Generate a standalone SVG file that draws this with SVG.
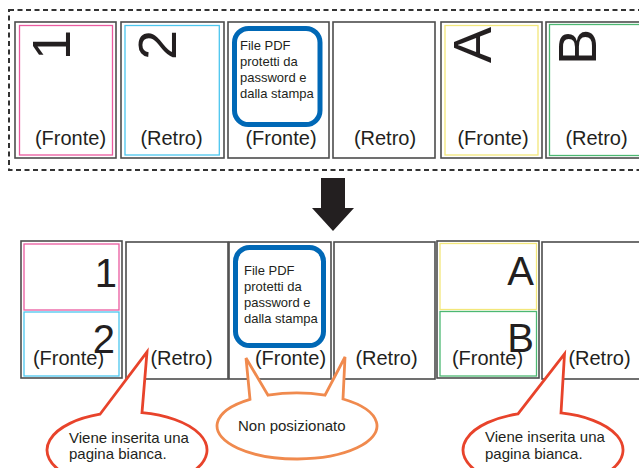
<svg xmlns="http://www.w3.org/2000/svg" width="639" height="468" viewBox="0 0 639 468">
<style>
.frame{fill:#fff;stroke:#4d4d4d;stroke-width:1.6}
.in{fill:none;stroke-width:1.3}
.pink{stroke:#ea5a9f}
.cyan{stroke:#4cc6ef}
.yel{stroke:#f3e77a}
.grn{stroke:#4cb872}
.t{font-family:"Liberation Sans",Arial,sans-serif;fill:#231f20}
.lbl{font-size:20px;text-anchor:middle}
.big{font-size:54px}
.mid{font-size:40px;text-anchor:end}
.blue{fill:#fff;stroke:#0068b6;stroke-width:5}
.btxt{font-size:13px}
.ctxt{font-size:15px}
.red{fill:#fff;stroke:#e8432b;stroke-width:2.8;stroke-linejoin:miter}
.org{fill:#fff;stroke:#f08a4e;stroke-width:2.8;stroke-linejoin:miter}
</style>
<rect x="0" y="0" width="639" height="468" fill="#fff"/>
<g id="source-set">
<rect x="9" y="10" width="640" height="160" fill="none" stroke="#333" stroke-width="2" stroke-dasharray="5 3.5"/>
<g id="top-page-1"><rect class="frame" x="15" y="22" width="101" height="136"/><rect class="in pink" x="19.5" y="25.5" width="93" height="129.5"/><text class="t big" transform="translate(70,60) rotate(-90)">1</text><text class="t lbl" x="70.5" y="145">(Fronte)</text></g>
<g id="top-page-2"><rect class="frame" x="121" y="22" width="103" height="136"/><rect class="in cyan" x="125" y="25.5" width="94.3" height="129.5"/><text class="t big" transform="translate(176,60) rotate(-90)">2</text><text class="t lbl" x="171.5" y="145">(Retro)</text></g>
<g id="top-page-3"><rect class="frame" x="228" y="22" width="101" height="136"/><rect class="blue" x="234.5" y="28.5" width="85.5" height="96" rx="14"/><text class="t btxt" x="240" y="50">File PDF</text><text class="t btxt" x="240" y="66">protetti da</text><text class="t btxt" x="240" y="82">password e</text><text class="t btxt" x="240" y="98">dalla stampa</text><text class="t lbl" x="281" y="145">(Fronte)</text></g>
<g id="top-page-4"><rect class="frame" x="333" y="22" width="102" height="136"/><text class="t lbl" x="385" y="145">(Retro)</text></g>
<g id="top-page-5"><rect class="frame" x="441" y="22" width="101" height="136"/><rect class="in yel" x="445" y="25.5" width="93" height="129.5"/><text class="t big" transform="translate(491,63) rotate(-90)">A</text><text class="t lbl" x="493" y="145">(Fronte)</text></g>
<g id="top-page-6"><rect class="frame" x="546" y="22" width="102" height="136"/><rect class="in grn" x="549.5" y="24.5" width="95" height="131"/><text class="t big" transform="translate(596,65) rotate(-90)">B</text><text class="t lbl" x="596.5" y="145">(Retro)</text></g>
</g>
<g id="connectors">
<polygon points="321,178 345,178 345,208 354,208 333,231 312,208 321,208" fill="#231f20"/>
</g>
<g id="result-set">
<g id="bottom-page-1"><rect class="frame" x="21" y="241" width="101" height="137"/><rect class="in pink" x="24" y="244" width="95" height="66"/><rect class="in cyan" x="24" y="312" width="95" height="64"/><text class="t mid" x="117" y="287">1</text><text class="t lbl" x="68.5" y="365">(Fronte)</text><text class="t mid" x="115" y="353">2</text></g>
<g id="bottom-page-2"><rect class="frame" x="126" y="242" width="102" height="137"/><text class="t lbl" x="181.5" y="365">(Retro)</text></g>
<g id="bottom-page-3"><rect class="frame" x="229" y="242" width="102" height="137"/><rect class="blue" x="235.5" y="247.5" width="88" height="98" rx="14"/><text class="t btxt" x="244" y="275">File PDF</text><text class="t btxt" x="244" y="291">protetti da</text><text class="t btxt" x="244" y="307">password e</text><text class="t btxt" x="244" y="323">dalla stampa</text><text class="t lbl" x="290.5" y="365">(Fronte)</text></g>
<g id="bottom-page-4"><rect class="frame" x="334" y="242" width="101" height="137"/><text class="t lbl" x="386.5" y="365">(Retro)</text></g>
<g id="bottom-page-5"><rect class="frame" x="437" y="241" width="102" height="137"/><rect class="in yel" x="440" y="243.5" width="96.5" height="66"/><rect class="in grn" x="440" y="311.5" width="96.5" height="64.5"/><text class="t mid" x="534" y="285">A</text><text class="t lbl" x="487.5" y="365">(Fronte)</text><text class="t mid" x="534" y="352">B</text></g>
<g id="bottom-page-6"><rect class="frame" x="542" y="242" width="102" height="137"/><text class="t lbl" x="599.5" y="365">(Retro)</text></g>
</g>
<g id="callout-left"><path class="red" d="M100,414.23 L147,352 L142,412.67 A80,38 0 1 1 100,414.23 Z"/><text class="t ctxt" x="69" y="443">Viene inserita una</text><text class="t ctxt" x="69" y="459">pagina bianca.</text></g>
<g id="callout-middle"><path class="org" d="M250,399.3 L246,358 L268,395.2 A80,33 0 0 1 325,395.1 L345,357 L343,399 A80,33 0 1 1 250,399.3 Z"/><text class="t ctxt" x="238" y="431">Non posizionato</text></g>
<g id="callout-right"><path class="red" d="M518,413.9 L564.5,354 L561,412.97 A80,38 0 1 1 518,413.9 Z"/><text class="t ctxt" x="485" y="442">Viene inserita una</text><text class="t ctxt" x="485" y="458.5">pagina bianca.</text></g>
</svg>
